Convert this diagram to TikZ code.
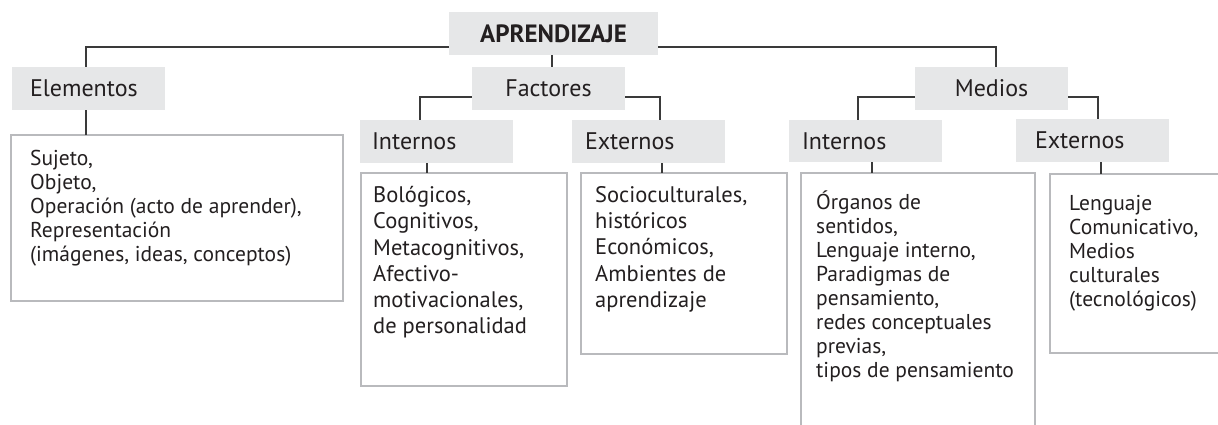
\documentclass[tikz,border=0pt]{standalone}
\usepackage{fontspec}
\setmainfont{PT Sans}
\usetikzlibrary{calc}
\definecolor{tfill}{HTML}{E6E7E8}
\definecolor{bord}{HTML}{B9BABD}
\definecolor{conn}{HTML}{3A3A3A}
\definecolor{txt}{HTML}{231F20}
\tikzset{
  ttl/.style={fill=tfill, minimum width=153pt, minimum height=43pt, inner ysep=0pt, inner xsep=0pt,
    text=txt, font=\fontsize{24}{27}\selectfont},
  frame/.style={draw=none, minimum width=#1, inner sep=0pt},
  bline/.style={draw=bord, line width=1.5pt},
  conline/.style={draw=conn, line width=1.1pt},
  dtext/.style={anchor=north west, inner sep=0pt, align=left, text=txt, font=\fontsize{21.5}{24}\selectfont},
  ftext/.style={anchor=north west, inner sep=0pt, align=left, text=txt, font=\fontsize{22.5}{26.3}\selectfont},
}
\begin{document}
\begin{tikzpicture}[x=1pt,y=-1pt]
\useasboundingbox (0,0) rectangle (1218,425);

% title boxes
\node[ttl, minimum width=209pt, font=\bfseries\fontsize{25}{28}\selectfont] (ap) at (553.5,33.5) {APRENDIZAJE};
\node[ttl, text width=117pt, align=left, inner xsep=18pt] (elem) at (88.5,88.5) {Elementos};
\node[ttl] (fac) at (548.5,88.5) {Factores};
\node[ttl] (med) at (991.5,88.5) {Medios};
\node[ttl, text width=129pt, align=left, inner xsep=12pt] (fi) at (436.5,141.5) {Internos};
\node[ttl, text width=127pt, align=left, inner xsep=13pt] (fe) at (648.5,141.5) {Externos};
\node[ttl, text width=127pt, align=left, inner xsep=13pt, minimum height=42pt] (mi) at (865.5,141) {Internos};
\node[ttl, text width=115pt, align=left, inner xsep=19pt, minimum height=43pt] (me) at (1092.5,140.5) {Externos};

% detail frames
\node[frame=332pt, minimum height=166pt] (elemD) at (177,218) {};
\node[frame=206pt, minimum height=213pt] (fiD) at (464,279.5) {};
\node[frame=206pt, minimum height=181pt] (feD) at (684,263.5) {};
\node[frame=234pt, minimum height=260pt] (miD) at (918,303) {};
\node[frame=176pt, minimum height=179pt] (meD) at (1138,263.5) {};

\draw[bline] (elemD.north west) rectangle (elemD.south east);
\draw[bline] (fiD.north west) rectangle (fiD.south east);
\draw[bline] (feD.north west) rectangle (feD.south east);
\draw[bline] (miD.south west) -- (miD.north west) -- (miD.north east) -- (miD.south east);
\draw[bline] (meD.north east) -- (meD.north west) -- (meD.south west) -- (meD.south east);

% detail texts
\node[dtext] (elemT) at (30,150) {Sujeto,\\Objeto,\\Operación (acto de aprender),\\Representación\\(imágenes, ideas, conceptos)};
\node[ftext] (fiT) at (373,186) {Bológicos,\\Cognitivos,\\Metacognitivos,\\Afectivo-\\motivacionales,\\de personalidad};
\node[ftext] (feT) at (595,186) {Socioculturales,\\históricos\\Económicos,\\Ambientes de\\aprendizaje};
\node[dtext] (miT) at (816,191) {Órganos de\\sentidos,\\Lenguaje interno,\\Paradigmas de\\pensamiento,\\redes conceptuales\\previas,\\tipos de pensamiento};
\node[dtext] (meT) at (1069,195) {Lenguaje\\Comunicativo,\\Medios\\culturales\\(tecnológicos)};

% connectors
\draw[conline] (ap.west |- 0,47) -| ([xshift=-2.5pt]elem.north);
\draw[conline] (ap.east |- 0,47) -| ([xshift=4.5pt]med.north);
\draw[conline] ([xshift=-1.5pt]ap.south) -- ([xshift=-1.5pt]ap.south |- fac.north);
\draw[conline] (fac.west |- 0,97) -| ([xshift=-16.5pt]fi.north);
\draw[conline] (fac.east |- 0,97) -| ([xshift=11.5pt]fe.north);
\draw[conline] (med.west |- 0,97) -| ([xshift=-7.5pt]mi.north);
\draw[conline] (med.east |- 0,97) -| ([xshift=5.5pt]me.north);
\draw[conline] ([xshift=-2.5pt]elem.south) -- ([xshift=-2.5pt]elem.south |- elemD.north);
\draw[conline] ([xshift=-9.5pt]fi.south) -- ([xshift=-9.5pt]fi.south |- fiD.north);
\draw[conline] ([xshift=13.5pt]fe.south) -- ([xshift=13.5pt]fe.south |- feD.north);
\draw[conline] ([xshift=6.5pt]mi.south) -- ([xshift=6.5pt]mi.south |- miD.north);
\draw[conline] ([xshift=8.5pt]me.south) -- ([xshift=8.5pt]me.south |- meD.north);
\end{tikzpicture}
\end{document}
